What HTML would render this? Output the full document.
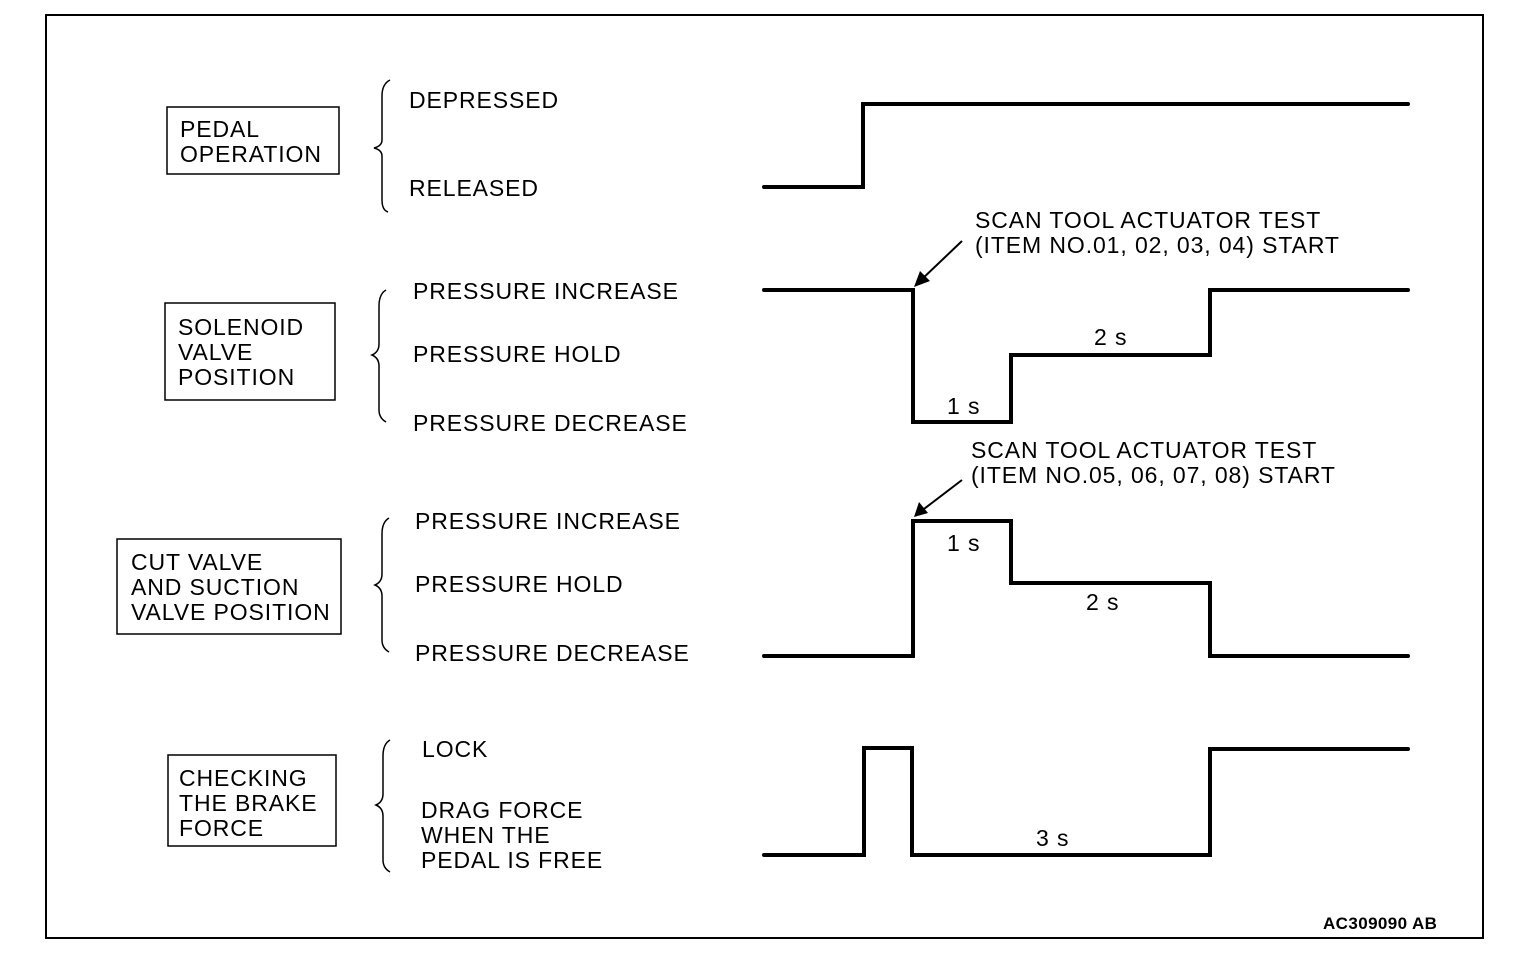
<!DOCTYPE html><html><head><style>body{margin:0;background:#fff}svg{display:block}text{font-family:"Liberation Sans",sans-serif;font-size:23px;letter-spacing:0.9px;fill:#000}</style></head><body>
<svg width="1536" height="966" viewBox="0 0 1536 966">
<rect x="46" y="15" width="1437" height="923" fill="none" stroke="#000" stroke-width="2"/>
<g fill="none" stroke="#000" stroke-width="1.5">
<rect x="167" y="107" width="172" height="67"/>
<rect x="165" y="303" width="170" height="97"/>
<rect x="117" y="539" width="224" height="95"/>
<rect x="168" y="755" width="168" height="91"/>
<path d="M390,80 Q382,84 382,96 V140 Q382,146 374,148 Q382,150 382,156 V200 Q382,210 388,212"/>
<path d="M386,290 Q379,294 379,306 V344 Q379,352 372,355 Q379,358 379,366 V410 Q379,418 386,422"/>
<path d="M389,518 Q382,522 382,534 V574 Q382,582 375,585 Q382,588 382,596 V640 Q382,648 389,652"/>
<path d="M390,740 Q383,744 383,756 V794 Q383,802 376,805 Q383,808 383,816 V860 Q383,868 390,872"/>
</g>
<g fill="none" stroke="#000" stroke-width="4" stroke-linecap="round">
<path d="M764,187 H863 V104 H1408"/>
<path d="M764,290 H913 V422 H1011 V355 H1210 V290 H1408"/>
<path d="M764,656 H913 V521 H1011 V583 H1210 V656 H1408"/>
<path d="M764,855 H864 V748 H912 V855 H1210 V749 H1408"/>
</g>
<g stroke="#000" stroke-width="2"><line x1="962" y1="241" x2="920" y2="281"/><line x1="962" y1="480" x2="920" y2="512"/></g>
<polygon points="914,287 920,271 930,281" fill="#000"/>
<polygon points="914,517 919,502 928,513" fill="#000"/>
<text x="180" y="137">PEDAL</text><text x="180" y="162">OPERATION</text>
<text x="178" y="335">SOLENOID</text><text x="178" y="360">VALVE</text><text x="178" y="385">POSITION</text>
<text x="131" y="570">CUT VALVE</text><text x="131" y="595">AND SUCTION</text><text x="131" y="620">VALVE POSITION</text>
<text x="179" y="786">CHECKING</text><text x="179" y="811">THE BRAKE</text><text x="179" y="836">FORCE</text>
<text x="409" y="108">DEPRESSED</text><text x="409" y="196">RELEASED</text>
<text x="413" y="299">PRESSURE INCREASE</text><text x="413" y="362">PRESSURE HOLD</text><text x="413" y="431">PRESSURE DECREASE</text>
<text x="415" y="529">PRESSURE INCREASE</text><text x="415" y="592">PRESSURE HOLD</text><text x="415" y="661">PRESSURE DECREASE</text>
<text x="422" y="757">LOCK</text><text x="421" y="818">DRAG FORCE</text><text x="421" y="843">WHEN THE</text><text x="421" y="868">PEDAL IS FREE</text>
<text x="975" y="228">SCAN TOOL ACTUATOR TEST</text><text x="975" y="253">(ITEM NO.01, 02, 03, 04) START</text>
<text x="971" y="458">SCAN TOOL ACTUATOR TEST</text><text x="971" y="483">(ITEM NO.05, 06, 07, 08) START</text>
<text x="947" y="414">1 s</text><text x="1094" y="345">2 s</text>
<text x="947" y="551">1 s</text><text x="1086" y="610">2 s</text>
<text x="1036" y="846">3 s</text>
<text x="1323" y="929" style="font-size:17px;font-weight:bold;letter-spacing:0.4px">AC309090 AB</text>
</svg></body></html>
